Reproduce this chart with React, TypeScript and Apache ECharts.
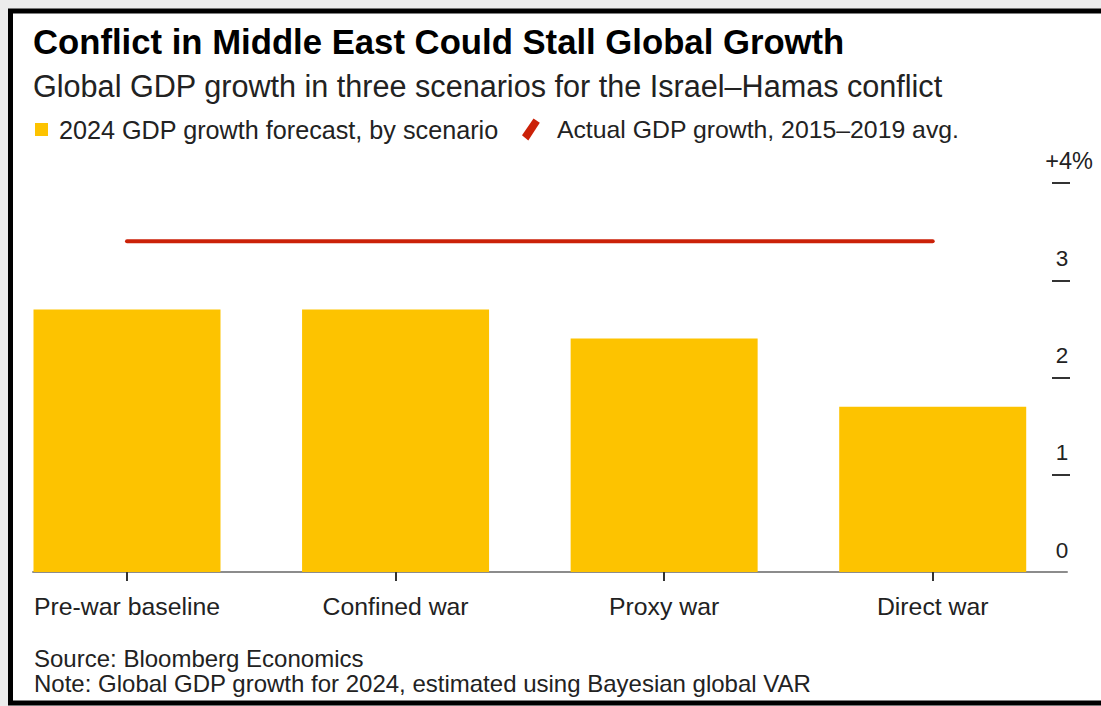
import React, { useEffect, useRef } from "react";
import * as echarts from "echarts";

const categories = ["Pre-war baseline", "Confined war", "Proxy war", "Direct war"];
const forecast2024 = [2.7, 2.7, 2.4, 1.7];
const actualAvg = 3.4;
const yTicks = [0, 1, 2, 3, 4];

const titleText = "Conflict in Middle East Could Stall Global Growth";
const subtitleText = "Global GDP growth in three scenarios for the Israel\u2013Hamas conflict";
const barName = "2024 GDP growth forecast, by scenario";
const lineName = "Actual GDP growth, 2015\u20132019 avg.";
const sourceText = "Source: Bloomberg Economics";
const noteText = "Note: Global GDP growth for 2024, estimated using Bayesian global VAR";

const FONT = "'Liberation Sans', Arial, Helvetica, sans-serif";

export default function App() {
  const ref = useRef<HTMLDivElement>(null);
  useEffect(() => {
    if (!ref.current) return;
    const chart = echarts.init(ref.current, undefined, { renderer: "svg" });
    const idx = categories.map((_, i) => i);
    chart.setOption({
      animation: false,
      backgroundColor: "#ececec",
      textStyle: { fontFamily: FONT },
      graphic: [
        {
          type: "rect",
          z: -10,
          silent: true,
          shape: { x: 10.5, y: 11, width: 1100, height: 692 },
          style: { fill: "#ffffff", stroke: "#000000", lineWidth: 5 },
        },
      ],
      title: [
        {
          text: titleText,
          left: 33,
          top: 24,
          padding: 0,
          textStyle: { fontFamily: FONT, fontSize: 34.7, fontWeight: "bold", color: "#000" },
        },
        {
          text: subtitleText,
          left: 33,
          top: 70,
          padding: 0,
          textStyle: { fontFamily: FONT, fontSize: 30.6, fontWeight: "normal", color: "#222" },
        },
        {
          text: sourceText,
          left: 34,
          top: 646,
          padding: 0,
          textStyle: { fontFamily: FONT, fontSize: 24, fontWeight: "normal", color: "#222" },
        },
        {
          text: noteText,
          left: 34,
          top: 671,
          padding: 0,
          textStyle: { fontFamily: FONT, fontSize: 24, fontWeight: "normal", color: "#222" },
        },
      ],
      legend: [
        {
          data: [{ name: barName, icon: "rect" }],
          left: 35,
          top: 117,
          padding: 0,
          itemWidth: 13,
          itemHeight: 13,
          selectedMode: false,
          textStyle: { fontFamily: FONT, fontSize: 25.2, color: "#222", padding: [0, 0, 0, 6] },
        },
        {
          data: [{ name: lineName, icon: "path://M0,16 L11,0 L17,4 L6,21 Z" }],
          left: 522,
          top: 117,
          padding: 0,
          itemWidth: 18,
          itemHeight: 22,
          selectedMode: false,
          textStyle: { fontFamily: FONT, fontSize: 24.8, color: "#222", padding: [0, 0, 0, 12] },
        },
      ],
      grid: { left: 33, right: 34, top: 183, bottom: 134 },
      xAxis: {
        type: "value",
        min: -0.35,
        max: 3.5,
        splitLine: { show: false },
        axisLine: { show: true, onZero: false, lineStyle: { color: "#8c8c8c", width: 2 } },
        axisTick: { show: true, customValues: idx, length: 9, lineStyle: { color: "#333", width: 2 } },
        axisLabel: {
          customValues: idx,
          margin: 22,
          fontFamily: FONT,
          fontSize: 24.8,
          color: "#222",
          formatter: (v: number) => (Number.isInteger(v) && categories[v] ? categories[v] : ""),
        },
      },
      yAxis: {
        type: "value",
        position: "right",
        min: 0,
        max: 4,
        interval: 1,
        offset: -15,
        splitLine: { show: false },
        axisLine: { show: false, onZero: false },
        axisTick: { show: true, customValues: yTicks.slice(1), length: 18, lineStyle: { color: "#333", width: 2 } },
        axisLabel: {
          customValues: yTicks,
          margin: 10,
          align: "center",
          verticalAlign: "bottom",
          lineHeight: 22,
          padding: [0, 0, 11, 0],
          fontFamily: FONT,
          fontSize: 22.5,
          color: "#222",
          formatter: (v: number) => (v === yTicks[yTicks.length - 1] ? "{p|+" + v + "%}" : String(v)),
          rich: { p: { padding: [0, 0, 0, 14], fontSize: 23.5, fontFamily: FONT, color: "#222" } },
        },
      },
      series: [
        {
          name: barName,
          type: "bar",
          barWidth: 187,
          itemStyle: { color: "#FDC300" },
          data: forecast2024.map((v, i) => [i, v]),
        },
        {
          name: lineName,
          type: "line",
          symbol: "none",
          color: "#CB2108",
          lineStyle: { color: "#CB2108", width: 4, cap: "round" },
          itemStyle: { color: "#CB2108" },
          data: [
            [0, actualAvg],
            [categories.length - 1, actualAvg],
          ],
        },
      ],
    });
    return () => chart.dispose();
  }, []);
  return <div ref={ref} style={{ position: "absolute", left: 0, top: 0, width: 1101, height: 706 }} />;
}
